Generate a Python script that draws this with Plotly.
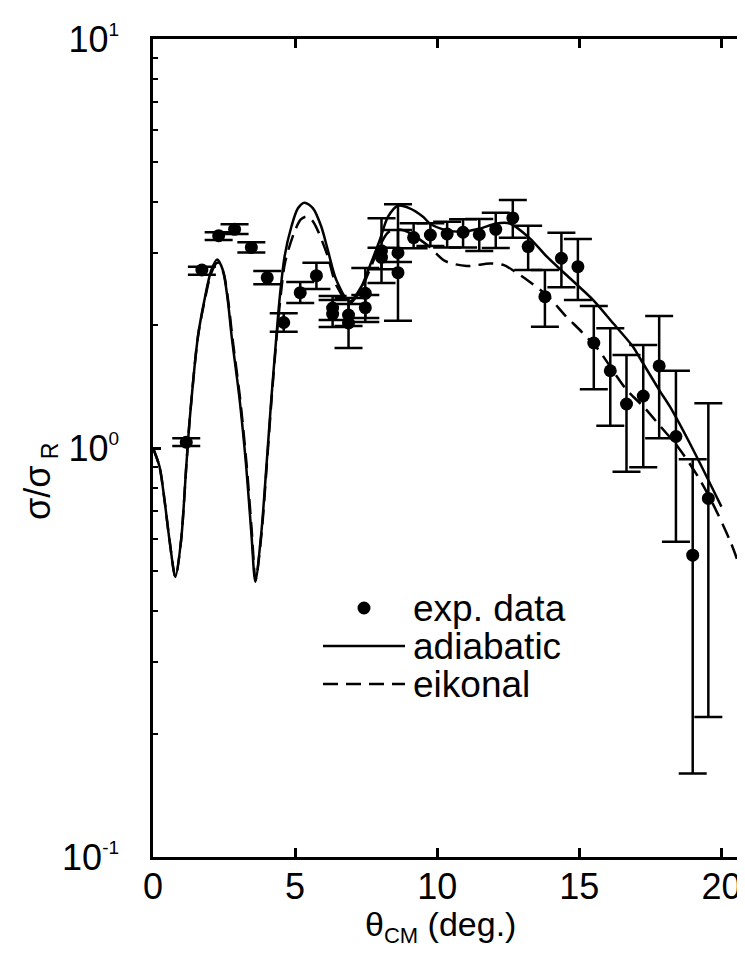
import plotly.graph_objects as go

# ---------------- data ----------------
theta_exp = [1.17, 1.72, 2.31, 2.87, 3.46, 4.02, 4.60, 5.18, 5.75, 6.32, 6.32, 6.88, 6.88,
             7.47, 7.47, 8.04, 8.04, 8.62, 8.62, 9.17, 9.76, 10.35, 10.91, 11.48, 12.06,
             12.66, 13.20, 13.79, 14.37, 14.95, 15.51, 16.09, 16.66, 17.25, 17.81, 18.40,
             18.99, 19.54]
sigma_exp = [1.033, 2.724, 3.304, 3.425, 3.094, 2.609, 2.027, 2.398, 2.638, 2.199, 2.126,
             2.114, 2.021, 2.389, 2.203, 3.036, 2.926, 3.002, 2.683, 3.270, 3.317, 3.336,
             3.369, 3.327, 3.425, 3.651, 3.108, 2.344, 2.910, 2.776, 1.806, 1.545, 1.281,
             1.340, 1.587, 1.067, 0.547, 0.753]
sigma_hi = [1.056, 2.776, 3.369, 3.523, 3.183, 2.709, 2.135, 2.546, 2.839, 2.353, 2.301,
            2.250, 2.327, 2.755, 2.366, 3.644, 3.088, 3.412, 3.943, 3.543, 3.543, 3.575,
            3.624, 3.630, 3.761, 4.040, 3.496, 2.724, 3.361, 3.243, 2.225, 1.962, 1.688,
            1.786, 2.103, 1.545, 0.938, 1.286]
sigma_lo = [1.011, 2.653, 3.225, 3.336, 3.008, 2.513, 1.924, 2.262, 2.448, 2.056, 1.976,
            1.988, 1.756, 2.079, 2.033, 2.532, 2.735, 2.850, 2.048, 3.077, 3.117, 3.094,
            3.094, 3.031, 3.083, 3.267, 2.724, 1.980, 2.471, 2.301, 1.392, 1.134, 0.875,
            0.897, 1.056, 0.590, 0.160, 0.220]

theta_adi = [0.00, 0.23, 0.405, 0.58, 0.79, 0.99, 1.17, 1.29, 1.58, 1.81, 2.05, 2.26, 2.46,
             2.63, 2.77, 3.05, 3.28, 3.46, 3.60, 3.81, 3.99, 4.16, 4.34, 4.45, 4.63, 4.87,
             5.10, 5.33, 5.63, 5.92, 6.15, 6.45, 6.92, 7.33, 7.62, 7.98, 8.27, 8.62, 9.03,
             9.50, 9.74, 10.32, 10.91, 11.50, 12.08, 12.55, 13.26, 13.85, 14.67, 15.49,
             16.19, 16.89, 17.13, 17.83, 18.19, 19.01, 20.00]
sigma_adi = [1.00, 0.90, 0.746, 0.596, 0.484, 0.596, 0.90, 1.17, 1.87, 2.30, 2.72, 2.89, 2.72,
             2.30, 1.87, 1.31, 0.90, 0.619, 0.471, 0.619, 0.90, 1.31, 1.87, 2.30, 2.94, 3.48,
             3.855, 3.98, 3.855, 3.48, 3.05, 2.575, 2.28, 2.48, 2.776, 3.225, 3.677, 3.91,
             3.855, 3.677, 3.54, 3.41, 3.38, 3.44, 3.54, 3.54, 3.256, 2.94, 2.60, 2.30,
             2.018, 1.769, 1.66, 1.38, 1.262, 0.989, 0.719]

theta_eik = [0.00, 0.23, 0.405, 0.58, 0.79, 0.99, 1.17, 1.29, 1.58, 1.81, 2.05, 2.28, 2.48,
             2.65, 2.79, 3.07, 3.30, 3.48, 3.61, 3.82, 4.00, 4.17, 4.35, 4.47, 4.65, 4.98,
             5.20, 5.39, 5.60, 5.80, 6.15, 6.45, 6.92, 7.33, 7.62, 7.98, 8.26, 8.55, 8.85,
             9.20, 9.74, 10.27, 11.04, 11.85, 12.35, 12.73, 13.26, 13.89, 14.49, 15.09,
             15.65, 16.67, 17.27, 17.87, 18.47, 19.18, 19.70, 20.34, 20.83]
sigma_eik = [1.00, 0.90, 0.746, 0.596, 0.484, 0.596, 0.90, 1.17, 1.87, 2.28, 2.68, 2.84, 2.68,
             2.28, 1.87, 1.31, 0.90, 0.619, 0.475, 0.619, 0.90, 1.31, 1.87, 2.28, 2.85, 3.38,
             3.62, 3.68, 3.60, 3.40, 2.94, 2.50, 2.26, 2.45, 2.72, 3.12, 3.36, 3.42, 3.40,
             3.30, 3.10, 2.866, 2.786, 2.826, 2.80, 2.70, 2.546, 2.353, 2.114, 1.921,
             1.746, 1.386, 1.26, 1.126, 1.006, 0.85, 0.73, 0.585, 0.47]

legend_labels = ["exp. data", "adiabatic", "eikonal"]
y_tickvals = [0.1, 1, 10]
y_exponents = ["-1", "0", "1"]
x_tickvals = [0, 5, 10, 15, 20]

# ---------------- layout geometry ----------------
# page (screenshot) pixel coordinates of the plot area; the html body adds an 8px offset
PAGE_OFF = 8
PL, PT, PB, PR = 153, 39, 857, 745
FW, FH = PR - PAGE_OFF, 940
W = PR - PL
H = PB - PT
FONT = "Liberation Sans, Arial, sans-serif"
FS_TICK = 36
FS_TITLE = 34
FS_LEG = 37
SUP = 19

y_ticktext = ["10<sup><span style='font-size:%dpx'>%s</span></sup>" % (SUP, e)
              for e in y_exponents]


def xp(px):
    return (px - PL) / W


def yp(py):
    return (PB - py) / H


err_up = [h - v for h, v in zip(sigma_hi, sigma_exp)]
err_dn = [v - l for v, l in zip(sigma_exp, sigma_lo)]

fig = go.Figure()
fig.add_trace(go.Scatter(
    x=theta_adi, y=sigma_adi, mode="lines", name=legend_labels[1],
    line=dict(color="black", width=2.5, shape="spline", smoothing=0.8),
    showlegend=False))
fig.add_trace(go.Scatter(
    x=theta_eik, y=sigma_eik, mode="lines", name=legend_labels[2],
    line=dict(color="black", width=2.5, dash="15px,8px", shape="spline", smoothing=0.8),
    showlegend=False))
fig.add_trace(go.Scatter(
    x=theta_exp, y=sigma_exp, mode="markers", name=legend_labels[0],
    marker=dict(color="black", size=13),
    error_y=dict(type="data", symmetric=False, array=err_up, arrayminus=err_dn,
                 color="black", thickness=2.5, width=14),
    showlegend=False))

minor_vals = [m * 10 ** e for e in (-1, 0) for m in range(2, 10)]

fig.update_layout(
    width=FW, height=FH,
    margin=dict(l=PL - PAGE_OFF, r=0, t=PT - PAGE_OFF, b=FH - (PB - PAGE_OFF),
                autoexpand=False),
    paper_bgcolor="white", plot_bgcolor="white",
    font=dict(family=FONT, size=FS_TICK, color="black"),
    showlegend=False,
    xaxis=dict(range=[0, 20.83], tickvals=x_tickvals, ticks="inside", ticklen=9,
               tickwidth=2.5, tickcolor="black", showline=True, linewidth=2.5,
               linecolor="black", mirror="ticks", showgrid=False, zeroline=False,
               tickfont=dict(size=FS_TICK), ticklabelstandoff=-4),
    yaxis=dict(type="log", range=[-1, 1], tickvals=y_tickvals, ticktext=y_ticktext,
               ticks="inside", ticklen=8, tickwidth=2.5, tickcolor="black",
               showline=True, linewidth=2.5, linecolor="black", mirror="ticks",
               showgrid=False, zeroline=False, tickfont=dict(size=FS_TICK),
               ticklabelstandoff=24,
               minor=dict(tickvals=minor_vals, ticks="inside", ticklen=5,
                          tickwidth=2, tickcolor="black", showgrid=False)),
)

# axis titles
fig.add_annotation(xref="paper", yref="paper", x=xp(40), y=yp(482),
                   text="σ/σ<sub><span style='font-size:23px'> R</span></sub>",
                   textangle=-90, showarrow=False,
                   font=dict(size=FS_TITLE + 2), xanchor="center", yanchor="middle")
fig.add_annotation(xref="paper", yref="paper", x=xp(440), y=yp(927),
                   text="θ<sub><span style='font-size:22px'>CM</span></sub> (deg.)",
                   showarrow=False,
                   font=dict(size=FS_TITLE), xanchor="center", yanchor="middle")

# legend (drawn in paper space)
rows = [608, 646, 684]
fig.add_shape(type="circle", xref="paper", yref="paper",
              x0=xp(357.5), x1=xp(370.5), y0=yp(rows[0] + 6.5), y1=yp(rows[0] - 6.5),
              fillcolor="black", line=dict(color="black", width=0))
fig.add_shape(type="line", xref="paper", yref="paper",
              x0=xp(323), x1=xp(405), y0=yp(rows[1]), y1=yp(rows[1]),
              line=dict(color="black", width=2.5))
fig.add_shape(type="line", xref="paper", yref="paper",
              x0=xp(323), x1=xp(405), y0=yp(rows[2]), y1=yp(rows[2]),
              line=dict(color="black", width=2.5, dash="15px,8px"))
for lab, r in zip(legend_labels, rows):
    fig.add_annotation(xref="paper", yref="paper", x=xp(411), y=yp(r),
                       text=lab, showarrow=False, font=dict(size=FS_LEG),
                       xanchor="left", yanchor="middle")

fig.write_html("out.html")
